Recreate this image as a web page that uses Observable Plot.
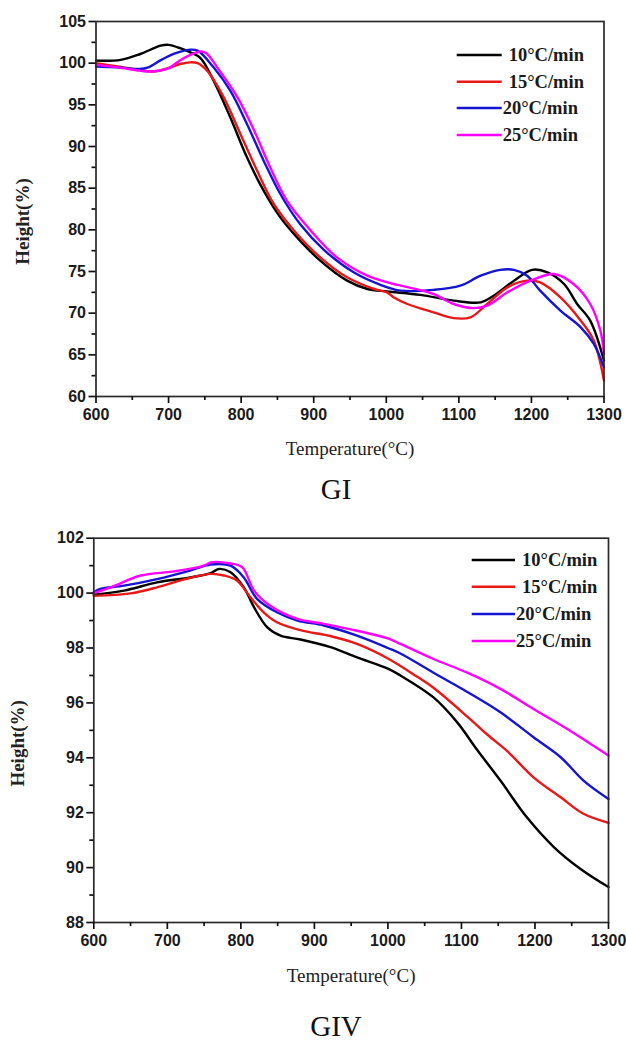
<!DOCTYPE html>
<html><head><meta charset="utf-8">
<script src="https://cdn.jsdelivr.net/npm/d3@7"></script>
<script src="https://cdn.jsdelivr.net/npm/@observablehq/plot@0.6"></script>
<style>
body{margin:0;background:#fff;}
#root{position:relative;width:626px;height:1040px;overflow:hidden;background:#fff;}
.panel{position:absolute;left:0;}
.cap{position:absolute;font-family:"Liberation Serif","Times New Roman",serif;font-size:29px;color:#111;transform:translate(-50%,-50%);white-space:nowrap;line-height:1;}
</style></head><body><div id="root"></div>
<script>
// ---------- data ----------
const seriesNames = ["10°C/min", "15°C/min", "20°C/min", "25°C/min"];
const seriesColors = ["#000000", "#e81818", "#1414d2", "#ff00ff"];

// GI panel: [temperature °C, height %]
const gi10 = [[600,100.3],[634,100.4],[661,101.1],[689,102.1],[700,102.2],[716,101.8],[730,101.3],[744,100.6],[762,97.9],[785,93.5],[808,88.7],[831,84.7],[854,81.5],[877,79.1],[909,76.3],[946,73.9],[974,72.9],[1001,72.6],[1047,72.2],[1093,71.5],[1130,71.3],[1148,72.1],[1176,73.9],[1201,75.2],[1222,74.9],[1245,73.5],[1263,71.1],[1281,69.1],[1300,64.3]];
const gi15 = [[600,100.0],[630,99.6],[660,99.2],[680,99.0],[700,99.4],[716,99.9],[730,100.1],[740,100.0],[753,99.1],[776,95.9],[799,91.5],[822,87.1],[845,83.1],[873,79.9],[909,76.7],[946,74.3],[983,72.9],[1001,72.5],[1010,71.9],[1029,71.1],[1065,70.1],[1093,69.4],[1116,69.5],[1139,71.1],[1167,73.1],[1194,73.9],[1212,73.7],[1240,71.9],[1268,69.1],[1286,66.7],[1300,61.9]];
const gi20 = [[600,99.6],[630,99.5],[660,99.3],[672,99.5],[690,100.4],[710,101.2],[728,101.6],[740,101.5],[762,99.5],[785,96.7],[808,92.7],[831,88.3],[854,84.3],[882,80.6],[914,77.6],[955,74.9],[992,73.4],[1020,72.7],[1065,72.8],[1102,73.3],[1130,74.5],[1157,75.2],[1176,75.2],[1194,74.5],[1212,72.7],[1240,70.3],[1268,68.3],[1286,66.3],[1300,63.5]];
const gi25 = [[600,99.8],[630,99.5],[660,99.1],[675,99.0],[700,99.4],[715,100.3],[730,101.0],[744,101.4],[752,101.2],[767,99.5],[795,95.9],[818,91.9],[840,87.5],[863,83.5],[896,79.9],[932,76.7],[974,74.5],[1010,73.5],[1020,73.3],[1065,72.3],[1093,71.1],[1120,70.6],[1139,70.9],[1167,72.5],[1199,73.9],[1231,74.7],[1258,73.5],[1281,71.1],[1295,67.9],[1300,65.1]];

// GIV panel
const giv10 = [[600,99.94],[641,100.09],[686,100.39],[731,100.57],[759,100.73],[770,100.88],[786,100.76],[804,100.21],[818,99.48],[836,98.75],[854,98.45],[881,98.31],[922,98.03],[958,97.66],[1000,97.25],[1017,97.0],[1062,96.2],[1094,95.3],[1121,94.3],[1153,93.17],[1189,91.83],[1226,90.74],[1262,89.95],[1300,89.29]];
const giv15 = [[600,99.9],[650,99.99],[686,100.21],[722,100.49],[759,100.70],[777,100.64],[795,100.45],[813,99.85],[831,99.30],[849,98.94],[881,98.65],[924,98.42],[958,98.15],[1000,97.62],[1040,96.95],[1062,96.55],[1108,95.5],[1135,94.85],[1162,94.25],[1198,93.29],[1235,92.56],[1266,91.96],[1300,91.63]];
const giv20 = [[600,100.03],[609,100.15],[641,100.27],[686,100.51],[731,100.82],[759,101.04],[786,101.0],[804,100.57],[822,99.79],[849,99.30],[877,99.0],[913,98.82],[958,98.45],[1000,98.0],[1017,97.8],[1062,97.1],[1108,96.4],[1153,95.66],[1198,94.75],[1235,94.02],[1266,93.17],[1300,92.5]];
const giv25 = [[600,100.0],[623,100.21],[664,100.64],[709,100.79],[750,101.0],[759,101.12],[786,101.08],[802,100.94],[818,100.09],[840,99.54],[877,99.06],[913,98.88],[958,98.63],[1000,98.35],[1017,98.15],[1062,97.6],[1108,97.1],[1153,96.51],[1198,95.78],[1244,95.05],[1300,94.08]];

// ticks
const xTicks = [600,700,800,900,1000,1100,1200,1300];
const xMinor = [650,750,850,950,1050,1150,1250];
const giYTicks = [60,65,70,75,80,85,90,95,100,105];
const giYMinor = [62.5,67.5,72.5,77.5,82.5,87.5,92.5,97.5,102.5];
const givYTicks = [88,90,92,94,96,98,100,102];
const givYMinor = [89,91,93,95,97,99,101];

const xTitle = "Temperature(°C)";
const yTitle = "Height(%)";
const captions = ["GI", "GIV"];

// ---------- drawing ----------
const root = document.getElementById("root");
const sansTick = {fontFamily: "Liberation Sans, Arial, sans-serif", fontWeight: "bold", fontSize: 16, fill: "#1a1a1a"};
const fmt = d => String(d);

function rows(lists) {
  const out = [];
  lists.forEach((l, i) => l.forEach(([t, h]) => out.push({t, h, s: seriesNames[i]})));
  return out;
}

function panel(cfg) {
  const data = rows(cfg.lists);
  const plot = Plot.plot({
    width: 626,
    height: cfg.height,
    marginLeft: cfg.ml, marginRight: cfg.mr, marginTop: cfg.mt, marginBottom: cfg.mb,
    x: {domain: [600, 1300]},
    y: {domain: cfg.yDomain},
    color: {domain: seriesNames, range: seriesColors},
    style: {background: "transparent", overflow: "visible"},
    marks: [
      Plot.line(data, {x: "t", y: "h", stroke: "s", z: "s", strokeWidth: 2.4, curve: "catmull-rom"}),
      Plot.frame({stroke: "#2a2a2a", strokeWidth: 1.7}),
      Plot.axisX(xTicks, {anchor: "bottom", tickSize: 7, tickPadding: 5, strokeWidth: 1.7, stroke: "#111", label: null, tickFormat: fmt, ...sansTick}),
      Plot.axisX(xMinor, {anchor: "bottom", tickSize: 4, strokeWidth: 1.7, stroke: "#111", tickFormat: () => "", label: null}),
      Plot.axisY(cfg.yTicks, {anchor: "left", tickSize: 7, tickPadding: 3, strokeWidth: 1.7, stroke: "#111", label: null, tickFormat: fmt, ...sansTick}),
      Plot.axisY(cfg.yMinor, {anchor: "left", tickSize: 4, strokeWidth: 1.7, stroke: "#111", tickFormat: () => "", label: null}),
      Plot.text([xTitle], {frameAnchor: "bottom", dy: cfg.xTitleDy, lineAnchor: "middle", fontFamily: "Liberation Serif, Times New Roman, serif", fontSize: 19, fill: "#222"}),
      Plot.text([yTitle], {frameAnchor: "left", textAnchor: "middle", lineAnchor: "middle", rotate: -90, dx: cfg.yTitleDx, dy: cfg.yTitleDy, fontFamily: "Liberation Serif, Times New Roman, serif", fontWeight: "bold", fontSize: 19, fill: "#222"})
    ]
  });
  plot.classList.add("panel");
  plot.style.top = cfg.top + "px";
  root.appendChild(plot);

  // legend overlay
  const lg = d3.select(root).append("svg")
    .attr("class", "panel").attr("width", 626).attr("height", cfg.height)
    .style("top", cfg.top + "px").style("pointer-events", "none");
  const shifts = [0, 0, -6, -6];
  seriesNames.forEach((name, i) => {
    const y = cfg.legY[i] - cfg.top;
    lg.append("line").attr("x1", cfg.legX1).attr("x2", cfg.legX2).attr("y1", y).attr("y2", y)
      .attr("stroke", seriesColors[i]).attr("stroke-width", 2.6);
    lg.append("text").attr("x", cfg.legX2 + 7 + shifts[i]).attr("y", y).attr("dy", "0.35em")
      .attr("font-family", "Liberation Serif, Times New Roman, serif").attr("font-weight", "bold")
      .attr("font-size", 18.5).attr("fill", "#1a1a1a").text(name);
  });

  const cap = document.createElement("div");
  cap.className = "cap";
  cap.textContent = cfg.caption;
  cap.style.left = cfg.capX + "px";
  cap.style.top = cfg.capY + "px";
  root.appendChild(cap);
}

panel({
  lists: [gi10, gi15, gi20, gi25], top: 0, height: 470,
  ml: 95.5, mr: 22.5, mt: 21, mb: 74,
  yDomain: [60, 105], yTicks: giYTicks, yMinor: giYMinor,
  xTitleDy: 52, yTitleDx: -73.5, yTitleDy: 12.5,
  legX1: 456.7, legX2: 501.7, legY: [55, 81.7, 108, 135],
  caption: captions[0], capX: 336, capY: 489
});

panel({
  lists: [giv10, giv15, giv20, giv25], top: 500, height: 500,
  ml: 93.3, mr: 18, mt: 37.7, mb: 78,
  yDomain: [88, 102], yTicks: givYTicks, yMinor: givYMinor,
  xTitleDy: 53, yTitleDx: -76, yTitleDy: 13,
  legX1: 471.7, legX2: 515, legY: [560, 586.7, 614, 641],
  caption: captions[1], capX: 336, capY: 1026
});
</script></body></html>
